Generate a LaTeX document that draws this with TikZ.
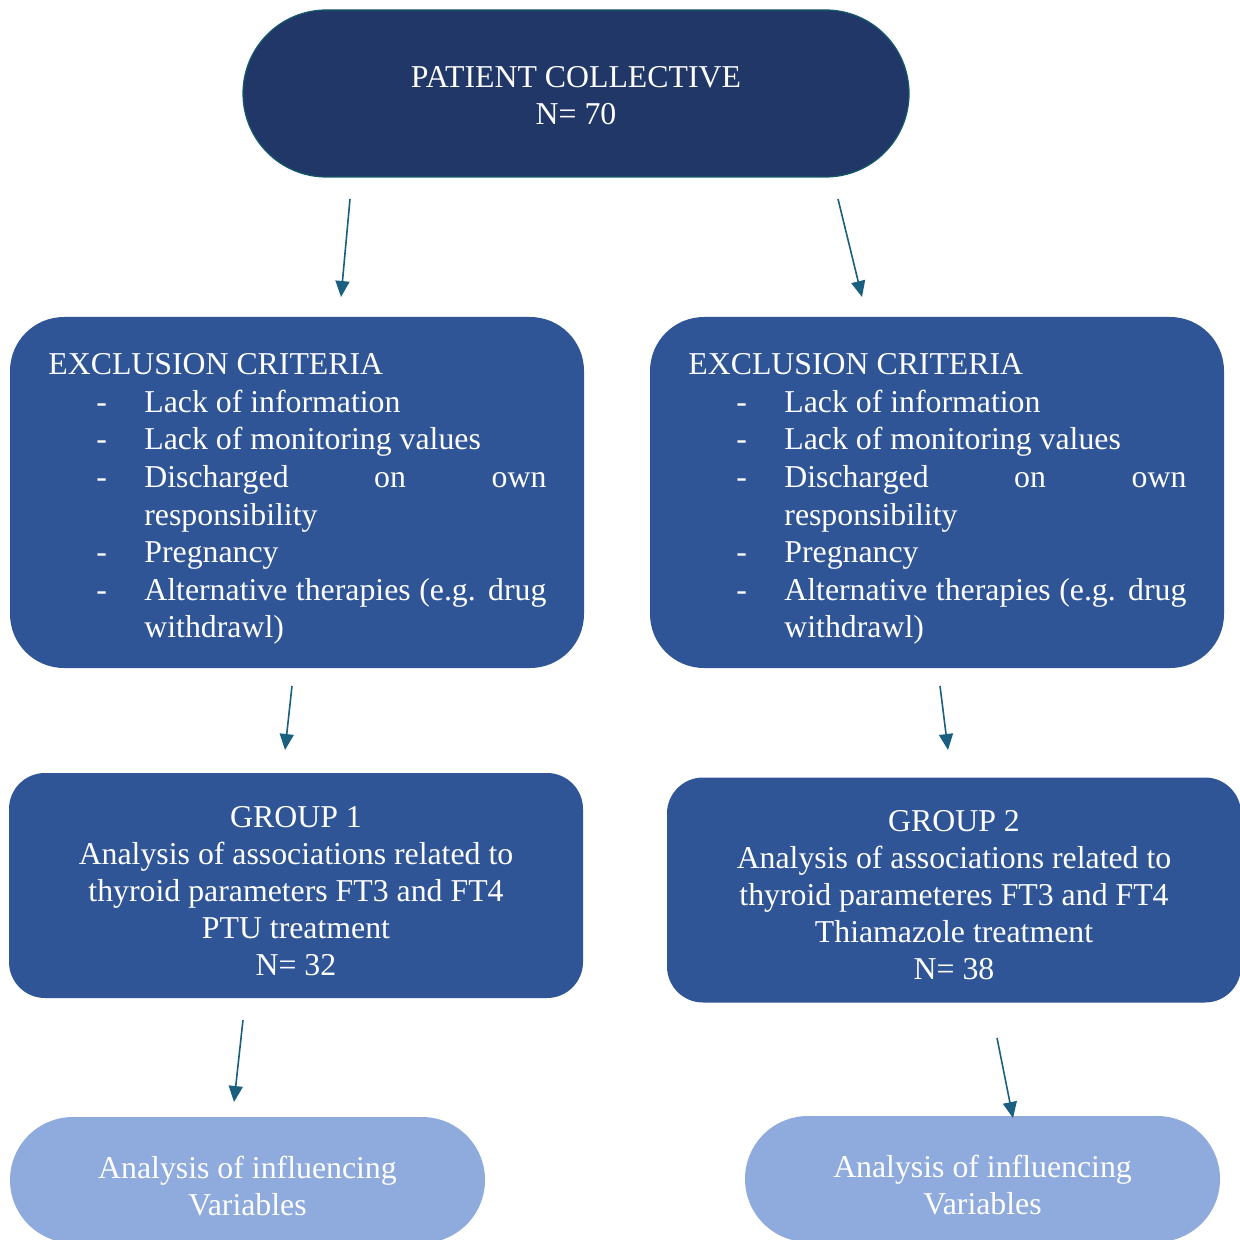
\documentclass[tikz,border=0pt]{standalone}
\usepackage{fontspec}
\setmainfont{Liberation Serif}
\usetikzlibrary{arrows.meta}
\definecolor{topfill}{HTML}{213767}
\definecolor{topline}{HTML}{145A6B}
\definecolor{boxfill}{HTML}{2F5597}
\definecolor{lightfill}{HTML}{8FAADC}
\definecolor{arrcol}{HTML}{1B5F80}
\newcommand\critem[1]{\mbox{\makebox[48pt][l]{\hspace*{24pt}-}#1}}
\newcommand\critcont[1]{\mbox{\hspace*{48pt}#1}}
\newcommand\natspace{\spaceskip=0pt\xspaceskip=0pt\relax}
\begin{document}
\begin{tikzpicture}[x=0.5pt,y=-0.5pt,
  every node/.style={font=\fontsize{15.9pt}{18.5pt}\selectfont, text=white, inner sep=0pt},
  topnode/.style={fill=topfill, draw=topline, line width=0.6pt, rounded corners=41.7pt, minimum width=333pt, minimum height=83.5pt},
  exbox/.style={fill=boxfill, rounded corners=27pt, minimum width=287pt, minimum height=175.5pt},
  grpbox/.style={fill=boxfill, rounded corners=18pt, minimum width=287pt, minimum height=112.5pt},
  varbox/.style={fill=lightfill, rounded corners=31.5pt, minimum width=237.5pt, minimum height=63pt},
  ctext/.style={align=center},
  extext/.style={anchor=base west, text width=249pt, align=left, font=\fontsize{15.9pt}{18.75pt}\selectfont},
  arr/.style={draw=arrcol, line width=0.8pt, -{Triangle[length=8pt,width=7pt]}, arrcol}
]
\clip (0,0) rectangle (1240,1240);
\fill[white] (0,0) rectangle (1240,1240);

\node[topnode] (top) at (576,93.5) {};
\node[ctext] (topt) at ([yshift=-1pt]top.center) {PATIENT COLLECTIVE\\N= 70};

\node[exbox] (exL) at (297,492.5) {};
\node[exbox] (exR) at (937,492.5) {};
\node[extext] (exLt) at (48,375) {\natspace\mbox{EXCLUSION CRITERIA}\\
\critem{Lack of information}\\
\critem{Lack of monitoring values}\\
\critem{\makebox[201pt][s]{Discharged\hfill on\hfill own}}\\
\critcont{responsibility}\\
\critem{Pregnancy}\\
\critem{\makebox[201pt][s]{Alternative therapies (e.g. drug}}\\
\critcont{withdrawl)}};
\node[extext] (exRt) at (688,375) {\natspace\mbox{EXCLUSION CRITERIA}\\
\critem{Lack of information}\\
\critem{Lack of monitoring values}\\
\critem{\makebox[201pt][s]{Discharged\hfill on\hfill own}}\\
\critcont{responsibility}\\
\critem{Pregnancy}\\
\critem{\makebox[201pt][s]{Alternative therapies (e.g. drug}}\\
\critcont{withdrawl)}};

\node[grpbox] (g1) at (296,885.5) {};
\node[ctext] (g1t) at ([yshift=-3pt]g1.center) {GROUP 1\\Analysis of associations related to\\thyroid parameters FT3 and FT4\\PTU treatment\\N= 32};
\node[grpbox] (g2) at (954,890) {};
\node[ctext] (g2t) at ([yshift=-2.7pt]g2.center) {GROUP 2\\Analysis of associations related to\\thyroid parameteres FT3 and FT4\\Thiamazole treatment\\N= 38};

\node[varbox] (v1) at (247.5,1180) {};
\node[ctext] (v1t) at ([yshift=-3pt]v1.center) {Analysis of influencing\\Variables};
\node[varbox] (v2) at (982.5,1179) {};
\node[ctext] (v2t) at ([yshift=-3pt]v2.center) {Analysis of influencing\\Variables};

\coordinate (a1s) at (350,199); \coordinate (a1e) at (341,297);
\coordinate (a2s) at (838,199); \coordinate (a2e) at (862,297);
\coordinate (a3s) at (292,686); \coordinate (a3e) at (285,750);
\coordinate (a4s) at (940,686); \coordinate (a4e) at (948,750);
\coordinate (a5s) at (243,1020); \coordinate (a5e) at (234,1102);
\coordinate (a6s) at (997,1038); \coordinate (a6e) at (1013,1118);
\draw[arr] (a1s) -- (a1e);
\draw[arr] (a2s) -- (a2e);
\draw[arr] (a3s) -- (a3e);
\draw[arr] (a4s) -- (a4e);
\draw[arr] (a5s) -- (a5e);
\draw[arr] (a6s) -- (a6e);
\end{tikzpicture}
\end{document}
